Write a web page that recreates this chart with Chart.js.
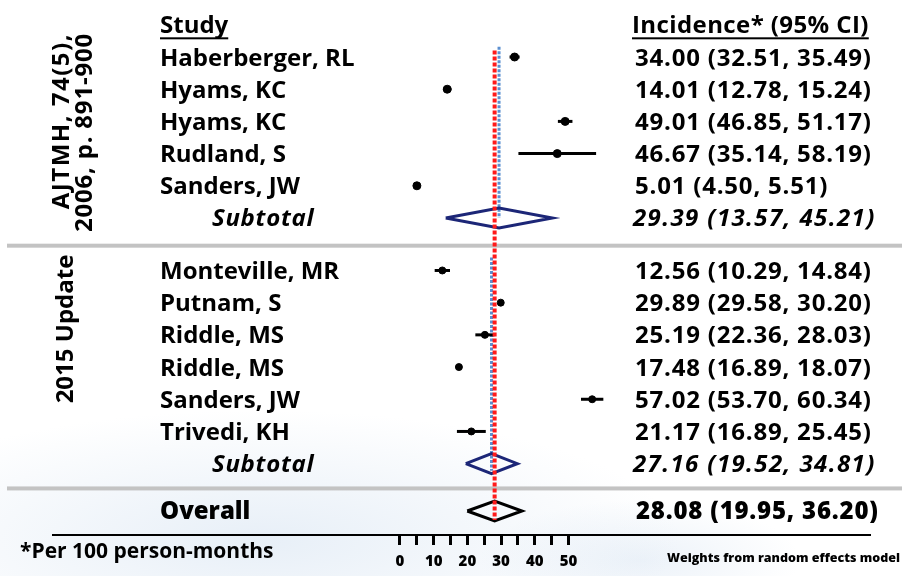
<!DOCTYPE html>
<html>
<head>
<meta charset="utf-8">
<script src="https://cdn.jsdelivr.net/npm/chart.js@4.4.0/dist/chart.umd.min.js"></script>
<style>
  html, body { margin: 0; padding: 0; background: #fff; }
  #wrap {
    position: relative; width: 902px; height: 576px;
    background:
      radial-gradient(ellipse 420px 130px at 260px 540px, rgba(212,226,241,0.55), rgba(255,255,255,0)),
      radial-gradient(ellipse 160px 60px at 640px 560px, rgba(212,226,241,0.45), rgba(255,255,255,0));
  }
</style>
</head>
<body>
<div id="wrap"><canvas id="forestChart" width="902" height="576"></canvas></div>
<script>
const studies1 = ["Haberberger, RL", "Hyams, KC", "Hyams, KC", "Rudland, S", "Sanders, JW"];
const est1 = [34.00, 14.01, 49.01, 46.67, 5.01];
const lo1 = [32.51, 12.78, 46.85, 35.14, 4.50];
const hi1 = [35.49, 15.24, 51.17, 58.19, 5.51];
const subtotal1 = [29.39, 13.57, 45.21];

const studies2 = ["Monteville, MR", "Putnam, S", "Riddle, MS", "Riddle, MS", "Sanders, JW", "Trivedi, KH"];
const est2 = [12.56, 29.89, 25.19, 17.48, 57.02, 21.17];
const lo2 = [10.29, 29.58, 22.36, 16.89, 53.70, 16.89];
const hi2 = [14.84, 30.20, 28.03, 18.07, 60.34, 25.45];
const subtotal2 = [27.16, 19.52, 34.81];

const overall = [28.08, 19.95, 36.20];
const xTicks = [0, 5, 10, 15, 20, 25, 30, 35, 40, 45, 50];

document.addEventListener("DOMContentLoaded", function () {
  const FONT = "'Open Sans', 'DejaVu Sans', sans-serif";

  // row layout (row units, header = 0)
  const rows1 = studies1.map((s, i) => i + 1);
  const subRow1 = studies1.length + 1;
  const rows2 = studies2.map((s, i) => subRow1 + 1.63 + i);
  const subRow2 = rows2[rows2.length - 1] + 1;
  const overallRow = subRow2 + 1.47;
  const sepRows = [subRow1 + 0.86, subRow2 + 0.77];

  const fmt = (a) => a[0].toFixed(2) + " (" + a[1].toFixed(2) + ", " + a[2].toFixed(2) + ")";

  function ciLines(est, lo, hi, rows) {
    return est.map((v, i) => ({
      data: [{ x: lo[i], y: rows[i] }, { x: hi[i], y: rows[i] }],
      showLine: true,
      borderColor: "#000",
      borderWidth: 3,
      pointRadius: 0,
    }));
  }

  function dots(est, rows, r) {
    return {
      data: est.map((v, i) => ({ x: v, y: rows[i] })),
      pointRadius: r,
      pointBackgroundColor: "#000",
      pointBorderColor: "#000",
      showLine: false,
    };
  }

  function diamond(s, row, color) {
    const h = 0.31;
    return {
      data: [
        { x: s[1], y: row }, { x: s[0], y: row - h }, { x: s[2], y: row },
        { x: s[0], y: row + h }, { x: s[1], y: row },
      ],
      showLine: true,
      borderColor: color,
      borderWidth: 3,
      pointRadius: 0,
      tension: 0,
    };
  }

  function vline(xv, y0, y1, color, width, dash) {
    return {
      data: [{ x: xv, y: y0 }, { x: xv, y: y1 }],
      showLine: true,
      borderColor: color,
      borderWidth: width,
      borderDash: dash,
      pointRadius: 0,
    };
  }

  const datasets = [
    vline(overall[0], 0.8, 15.38, "#ff1a1a", 4, [4, 2]),
    dots(est1, rows1, 4),
    dots(est2, rows2, 3.5),
    ...ciLines(est1, lo1, hi1, rows1),
    ...ciLines(est2, lo2, hi2, rows2),
    diamond(subtotal1, subRow1, "#1c2677"),
    diamond(subtotal2, subRow2, "#1c2677"),
    diamond(overall, overallRow, "#000"),
    vline(subtotal1[0], 0.68, subRow1, "#5b8fd0", 3, [3, 1.5]),
    vline(subtotal2[0], 7.23, 13.85, "#5b8fd0", 3, [3, 1.5]),
  ];

  function text(ctx, str, x, y, spacing) {
    ctx.letterSpacing = (spacing || 0) + "px";
    ctx.fillText(str, x, y);
    const w = ctx.measureText(str).width;
    ctx.letterSpacing = "0px";
    return w;
  }

  const textPlugin = {
    id: "forestText",
    beforeDatasetsDraw(chart) {
      const { ctx, scales: { y } } = chart;
      ctx.save();
      ctx.fillStyle = "#c3c3c3";
      sepRows.forEach((r) => {
        const py = y.getPixelForValue(r);
        ctx.fillRect(7, py - 2, 895, 4);
      });
      ctx.restore();
    },
    afterDraw(chart) {
      const { ctx, scales: { y } } = chart;
      const base = (r) => y.getPixelForValue(r) + 8.5;
      ctx.save();
      ctx.fillStyle = "#000";
      ctx.textBaseline = "alphabetic";
      ctx.textAlign = "left";

      // headers
      ctx.font = "bold 24px " + FONT;
      const hy = base(0);
      let w = text(ctx, "Study", 160, hy, 0);
      ctx.fillRect(160, hy + 4, w, 2);
      w = text(ctx, "Incidence* (95% CI)", 632, hy, 0.4);
      ctx.fillRect(632, hy + 4, w, 2);

      // studies
      studies1.forEach((s, i) => {
        text(ctx, s, 160, base(rows1[i]), 0);
        text(ctx, fmt([est1[i], lo1[i], hi1[i]]), 635, base(rows1[i]), 0.8);
      });
      studies2.forEach((s, i) => {
        text(ctx, s, 160, base(rows2[i]), 0);
        text(ctx, fmt([est2[i], lo2[i], hi2[i]]), 635, base(rows2[i]), 0.8);
      });

      ctx.font = "italic bold 24px " + FONT;
      text(ctx, "Subtotal", 212, base(subRow1), 0.7);
      text(ctx, fmt(subtotal1), 633, base(subRow1), 1.4);
      text(ctx, "Subtotal", 212, base(subRow2), 0.7);
      text(ctx, fmt(subtotal2), 633, base(subRow2), 1.4);

      ctx.font = "800 24px " + FONT;
      text(ctx, "Overall", 160, base(overallRow), 0);
      text(ctx, fmt(overall), 636, base(overallRow), 0.8);

      // group labels
      ctx.font = "bold 24px " + FONT;
      ctx.save();
      ctx.translate(69, 33);
      ctx.rotate(-Math.PI / 2);
      ctx.textAlign = "right";
      text(ctx, "AJTMH, 74(5),", 0, 0, 1.5);
      text(ctx, "2006, p. 891-900", 0, 23, 0.8);
      ctx.restore();

      ctx.save();
      ctx.translate(73, 329);
      ctx.rotate(-Math.PI / 2);
      ctx.textAlign = "center";
      text(ctx, "2015 Update", 0, 0, 0);
      ctx.restore();

      // footnotes
      ctx.font = "bold 21px " + FONT;
      ctx.fillText("*Per 100 person-months", 20, 558);
      ctx.font = "800 12.5px " + FONT;
      ctx.fillText("Weights from random effects model", 667, 562);
      ctx.restore();
    },
  };

  const xMin = (53 - 400) / 3.37;
  const xMax = (870 - 400) / 3.37;

  const ctx = document.getElementById("forestChart").getContext("2d");
  new Chart(ctx, {
    type: "scatter",
    data: { datasets: datasets },
    options: {
      responsive: false,
      animation: false,
      layout: { padding: { left: 53, right: 32, top: 0, bottom: -3 } },
      plugins: {
        legend: { display: false },
        tooltip: { enabled: false },
      },
      scales: {
        x: {
          type: "linear",
          min: xMin,
          max: xMax,
          afterBuildTicks: (scale) => {
            scale.ticks = xTicks.map((v) => ({ value: v }));
          },
          ticks: {
            callback: (v) => (v % 10 === 0 ? String(v) : ""),
            color: "#000",
            font: { family: FONT, weight: "800", size: 15, lineHeight: 1 },
            padding: 9.5,
            autoSkip: false,
            maxRotation: 0,
          },
          grid: {
            drawOnChartArea: false,
            drawTicks: true,
            tickLength: 10,
            tickWidth: 3,
            tickColor: "#000",
          },
          border: { display: true, color: "#000", width: 2 },
        },
        y: {
          type: "linear",
          display: false,
          reverse: true,
          min: -20 / 32.5,
          max: 515 / 32.5,
        },
      },
    },
    plugins: [textPlugin],
  });
});
</script>
</body>
</html>
